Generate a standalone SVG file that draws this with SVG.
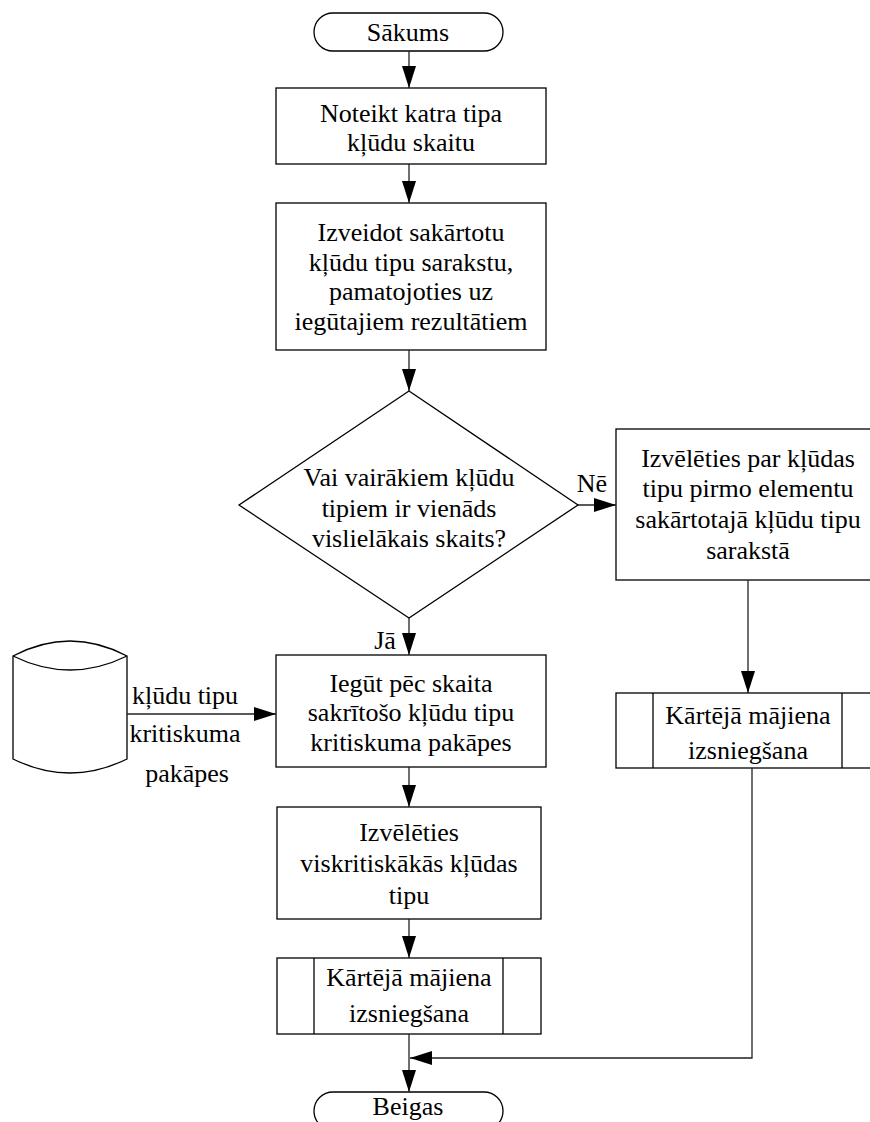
<svg xmlns="http://www.w3.org/2000/svg" width="870" height="1122" viewBox="0 0 870 1122">
<style>
.s{fill:#fff;stroke:#000;stroke-width:1.3}
.c{fill:none;stroke:#222;stroke-width:1.3}
text{font-family:"Liberation Serif","Times New Roman",serif;font-size:26px;fill:#000;text-anchor:middle}
</style>
<defs>
<marker id="ah" markerUnits="userSpaceOnUse" markerWidth="22" markerHeight="14" refX="22" refY="7" orient="auto">
<path d="M0,0 L22,7 L0,14 z" fill="#000"/>
</marker>
</defs>
<rect width="870" height="1122" fill="#fff"/>
<g id="start">
<rect class="s" x="314" y="13" width="189" height="38" rx="19"/>
<text x="408" y="41">Sākums</text>
</g>
<g id="box1">
<rect class="s" x="276" y="88" width="270" height="76"/>
<text x="411" y="122">Noteikt katra tipa</text>
<text x="411" y="151">kļūdu skaitu</text>
</g>
<g id="box2">
<rect class="s" x="276" y="203" width="270" height="147"/>
<text x="411" y="241">Izveidot sakārtotu</text>
<text x="411" y="271">kļūdu tipu sarakstu,</text>
<text x="411" y="300">pamatojoties uz</text>
<text x="411" y="330">iegūtajiem rezultātiem</text>
</g>
<g id="decision">
<polygon class="s" points="409,391 578,505 409,618 239,505"/>
<text x="409" y="486">Vai vairākiem kļūdu</text>
<text x="409" y="517">tipiem ir vienāds</text>
<text x="409" y="547">vislielākais skaits?</text>
</g>
<g id="boxRight">
<rect class="s" x="616" y="429" width="260" height="151"/>
<text x="748" y="467">Izvēlēties par kļūdas</text>
<text x="748" y="497">tipu pirmo elementu</text>
<text x="748" y="528">sakārtotajā kļūdu tipu</text>
<text x="748" y="559">sarakstā</text>
</g>
<g id="subRight">
<rect class="s" x="616" y="693" width="260" height="75"/>
<line class="s" x1="653" y1="693" x2="653" y2="768"/>
<line class="s" x1="842" y1="693" x2="842" y2="768"/>
<text x="748" y="724">Kārtējā mājiena</text>
<text x="748" y="759">izsniegšana</text>
</g>
<g id="database">
<path class="s" d="M13,656 Q70,626 127,656 V759 Q70,787 13,759 Z"/>
<path class="s" fill="none" d="M13,656 Q70,684 127,656"/>
</g>
<g id="box3">
<rect class="s" x="276" y="655" width="270" height="112"/>
<text x="411" y="692">Iegūt pēc skaita</text>
<text x="411" y="721">sakrītošo kļūdu tipu</text>
<text x="411" y="751">kritiskuma pakāpes</text>
</g>
<g id="box4">
<rect class="s" x="277" y="807" width="264" height="112"/>
<text x="409" y="841">Izvēlēties</text>
<text x="409" y="872">viskritiskākās kļūdas</text>
<text x="409" y="904">tipu</text>
</g>
<g id="subLeft">
<rect class="s" x="277" y="958" width="264" height="76"/>
<line class="s" x1="314" y1="958" x2="314" y2="1034"/>
<line class="s" x1="503" y1="958" x2="503" y2="1034"/>
<text x="409" y="986">Kārtējā mājiena</text>
<text x="409" y="1022">izsniegšana</text>
</g>
<g id="end">
<rect class="s" x="314" y="1092" width="189" height="38" rx="19"/>
<text x="408" y="1115">Beigas</text>
</g>
<g id="connectors">
<path class="c" d="M409,51 V88" marker-end="url(#ah)"/>
<path class="c" d="M409,164 V203" marker-end="url(#ah)"/>
<path class="c" d="M409,350 V391" marker-end="url(#ah)"/>
<path class="c" d="M578,505 H616" marker-end="url(#ah)"/>
<path class="c" d="M409,618 V655" marker-end="url(#ah)"/>
<path class="c" d="M127,714 H276" marker-end="url(#ah)"/>
<path class="c" d="M748,580 V693" marker-end="url(#ah)"/>
<path class="c" d="M409,767 V807" marker-end="url(#ah)"/>
<path class="c" d="M409,919 V958" marker-end="url(#ah)"/>
<path class="c" d="M409,1034 V1092" marker-end="url(#ah)"/>
<path class="c" d="M752,768 V1058 H410" marker-end="url(#ah)"/>
<text x="592" y="492">Nē</text>
<text x="385" y="649">Jā</text>
<text x="185" y="704">kļūdu tipu</text>
<text x="185" y="742">kritiskuma</text>
<text x="187" y="782">pakāpes</text>
</g>
</svg>
